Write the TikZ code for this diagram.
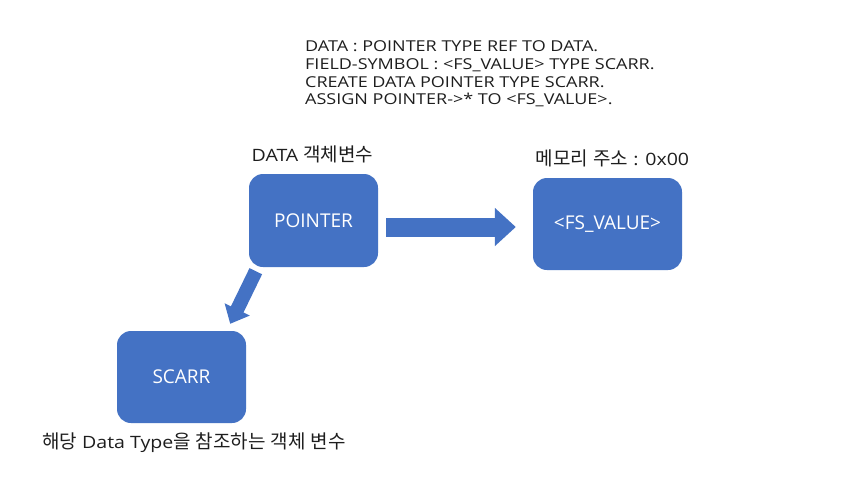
\documentclass[tikz,border=0pt]{standalone}
\usepackage{fontspec}
\setmainfont{Open Sans}
\newfontfamily\kr{Noto Sans CJK KR}
\newfontfamily\wide[FakeStretch=1.2]{Open Sans}
\newfontfamily\capfont[FakeStretch=1.15]{Open Sans}
\newcommand{\ko}[1]{{\kr\fontsize{19}{20}\selectfont #1}}
\usetikzlibrary{calc,positioning,arrows.meta}
\definecolor{boxblue}{HTML}{4472C4}
\definecolor{inkgray}{HTML}{1E1E1E}
\tikzset{
  membox/.style  = {shape=rectangle, rounded corners=14pt,
                    fill=boxblue, text=white, align=center,
                    font=\fontsize{19}{22}\selectfont},
  caption/.style = {inner sep=0pt, text=inkgray,
                    font=\capfont\fontsize{17}{20}\selectfont},
  code/.style    = {inner sep=0pt, align=left, text=inkgray,
                    font=\wide\fontsize{15}{17.6}\selectfont},
  bigarrow/.style = {draw=boxblue, line width=#1}
}

\begin{document}
\begin{tikzpicture}[x=1pt,y=-1pt]
\fill[white] (0,0) rectangle (843,483);
\useasboundingbox (0,0) rectangle (843,483);
\node [code, anchor=west] (src) at (305,74)
  {DATA : POINTER TYPE REF TO DATA.\\
   FIELD-SYMBOL : <FS\_VALUE> TYPE SCARR.\\
   CREATE DATA POINTER TYPE SCARR.\\
   ASSIGN POINTER->* TO <FS\_VALUE>.};
\node [membox, minimum width=129pt, minimum height=93pt] (pointer) at (313.5,220.5) {POINTER};
\node [membox, minimum width=149pt, minimum height=92pt] (fsvalue) at (607.5,224) {<FS\_VALUE>};
\node [membox, minimum width=129pt, minimum height=92pt] (scarr) at (181.5,377) {SCARR};
\node [caption] (ptrlbl) at (312.5,154) {DATA \ko{객체변수}};
\node [caption] (memlbl) at (612.5,158) {\ko{메모리} \ko{주소} : 0x00};
\node [caption] (scarrlbl) at (194,443) {\ko{해당} Data Type\ko{을} \ko{참조하는} \ko{객체} \ko{변수}};
% arrows between the boxes
\draw [bigarrow=19pt, -{Triangle[length=21pt,width=37pt]}]
  ($(pointer.east)+(8,6.5)$) -- ($(fsvalue.west)+(-17,3)$);
\draw [bigarrow=14pt, -{Triangle[length=16pt,width=27pt]}]
  ($(pointer.south west)+(7,4)$) -- ($(scarr.north east)+(-16,-7)$);
\end{tikzpicture}
\end{document}
